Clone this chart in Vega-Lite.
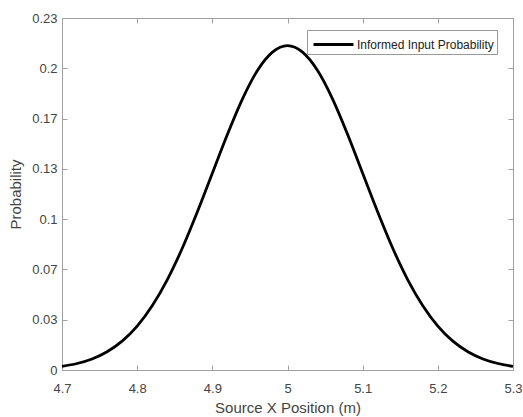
{
  "$schema": "https://vega.github.io/schema/vega-lite/v6.json",
  "width": 451,
  "height": 352,
  "autosize": "none",
  "padding": {"left": 62, "top": 18, "right": 10, "bottom": 47},
  "background": "white",
  "config": {
    "view": {"stroke": null},
    "font": "Liberation Sans",
    "axis": {
      "grid": false,
      "domainColor": "#a0a0a0",
      "tickColor": "#a0a0a0",
      "domainWidth": 1,
      "tickWidth": 1,
      "labelColor": "#444444",
      "titleColor": "#444444",
      "labelFont": "Liberation Sans",
      "titleFont": "Liberation Sans",
      "labelFontSize": 13,
      "titleFontSize": 15,
      "titleFontWeight": "normal",
      "labelFlush": false
    }
  },
  "data": {
    "values": [
      {"x": 4.70, "p": 0.0024},
      {"x": 4.72, "p": 0.0043},
      {"x": 4.74, "p": 0.0073},
      {"x": 4.76, "p": 0.0121},
      {"x": 4.78, "p": 0.0191},
      {"x": 4.80, "p": 0.0291},
      {"x": 4.82, "p": 0.0426},
      {"x": 4.84, "p": 0.0598},
      {"x": 4.86, "p": 0.0807},
      {"x": 4.88, "p": 0.1047},
      {"x": 4.90, "p": 0.1304},
      {"x": 4.92, "p": 0.1561},
      {"x": 4.94, "p": 0.1796},
      {"x": 4.96, "p": 0.1985},
      {"x": 4.98, "p": 0.2107},
      {"x": 5.00, "p": 0.2150},
      {"x": 5.02, "p": 0.2107},
      {"x": 5.04, "p": 0.1985},
      {"x": 5.06, "p": 0.1796},
      {"x": 5.08, "p": 0.1561},
      {"x": 5.10, "p": 0.1304},
      {"x": 5.12, "p": 0.1047},
      {"x": 5.14, "p": 0.0807},
      {"x": 5.16, "p": 0.0598},
      {"x": 5.18, "p": 0.0426},
      {"x": 5.20, "p": 0.0291},
      {"x": 5.22, "p": 0.0191},
      {"x": 5.24, "p": 0.0121},
      {"x": 5.26, "p": 0.0073},
      {"x": 5.28, "p": 0.0043},
      {"x": 5.30, "p": 0.0024}
    ]
  },
  "layer": [
    {
      "mark": {"type": "line", "opacity": 0},
      "encoding": {
        "x": {
          "field": "x", "type": "quantitative",
          "scale": {"domain": [4.7, 5.3], "nice": false, "zero": false},
          "axis": {"orient": "top", "labels": false, "title": null, "values": [4.7, 4.8, 4.9, 5.0, 5.1, 5.2, 5.3], "tickSize": -5}
        },
        "y": {
          "field": "p", "type": "quantitative",
          "scale": {"domain": [0, 0.23333], "nice": false},
          "axis": {"orient": "right", "labels": false, "title": null, "values": [0, 0.03333, 0.06667, 0.1, 0.13333, 0.16667, 0.2, 0.23333], "tickSize": -5}
        }
      }
    },
    {
      "mark": {"type": "line", "color": "black", "strokeWidth": 2.8, "interpolate": "monotone"},
      "encoding": {
        "x": {
          "field": "x", "type": "quantitative",
          "scale": {"domain": [4.7, 5.3], "nice": false, "zero": false},
          "axis": {"orient": "bottom", "title": "Source X Position (m)", "values": [4.7, 4.8, 4.9, 5.0, 5.1, 5.2, 5.3], "format": ".1~f", "tickSize": -5, "labelPadding": 17, "titlePadding": 5}
        },
        "y": {
          "field": "p", "type": "quantitative",
          "scale": {"domain": [0, 0.23333], "nice": false},
          "axis": {"orient": "left", "title": "Probability", "values": [0, 0.03333, 0.06667, 0.1, 0.13333, 0.16667, 0.2, 0.23333], "format": ".2~f", "tickSize": -5, "labelPadding": 10, "titlePadding": 8}
        },
        "stroke": {
          "datum": "Informed Input Probability",
          "type": "nominal",
          "scale": {"range": ["black"]},
          "legend": {
            "title": null,
            "orient": "none",
            "legendX": 245,
            "legendY": 12,
            "symbolType": "M-2,0H2",
            "symbolSize": 400,
            "symbolOffset": 12,
            "symbolStrokeWidth": 3,
            "labelOffset": 12,
            "labelFontSize": 12,
            "labelColor": "#222222",
            "labelFont": "Liberation Sans",
            "strokeColor": "#999999",
            "fillColor": "white",
            "padding": 3,
            "cornerRadius": 0
          }
        }
      }
    }
  ],
  "resolve": {"axis": {"x": "independent", "y": "independent"}}
}
